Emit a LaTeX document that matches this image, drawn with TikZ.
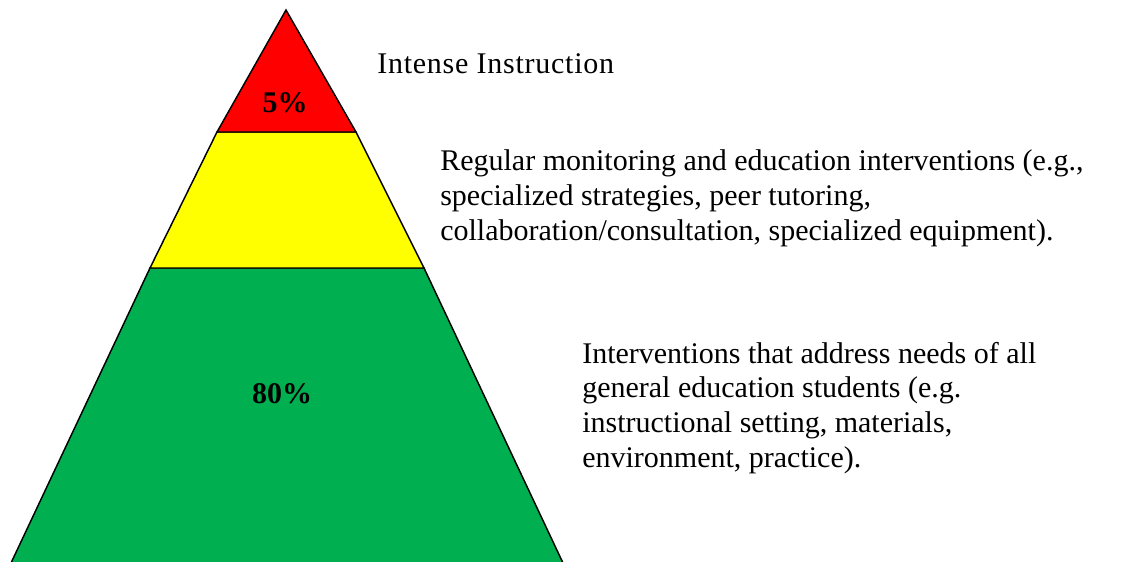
\documentclass[tikz,border=0pt]{standalone}
\usepackage{fontspec}
\setmainfont{Liberation Serif}
\definecolor{tierred}{HTML}{FF0000}
\definecolor{tieryellow}{HTML}{FFFF00}
\definecolor{tiergreen}{HTML}{00B050}
\tikzset{
  tier/.style={draw=black, line width=1.1pt, line join=miter},
  note/.style={anchor=base west, align=left, inner sep=0pt, font=\fontsize{22.5}{25.9}\selectfont},
  pct/.style={anchor=base, inner sep=0pt, font=\fontsize{22.5}{25.9}\selectfont\bfseries}
}
\begin{document}
\begin{tikzpicture}[x=0.75pt, y=-0.75pt]
        \useasboundingbox (0,0) rectangle (1129,561);
        \clip (0,0) rectangle (1129,561);

        \coordinate (apex) at (286, 10);
        \coordinate (redL) at (217, 132);
        \coordinate (redR) at (356, 132);
        \coordinate (yelL) at (150, 268);
        \coordinate (yelR) at (424, 268);
        \coordinate (grnL) at (11, 563);
        \coordinate (grnR) at (563, 563);

        \filldraw [tier, fill=tiergreen] (yelL) -- (yelR) -- (grnR) -- (grnL) -- cycle;
        \filldraw [tier, fill=tieryellow] (redL) -- (redR) -- (yelR) -- (yelL) -- cycle;
        \filldraw [tier, fill=tierred] (apex) -- (redR) -- (redL) -- cycle;

        \node [pct] (top) at (285, 112) {5\%};
        \node [pct] (base) at (282, 403) {80\%};

        % multi-line notes sit on the baseline of their last line
        \node [note, font=\fontsize{22.5}{25.9}\selectfont\addfontfeature{LetterSpace=2.5}] (intense) at (377, 73) {Intense Instruction};
        \node [note] (regular) at (440, 240) {Regular monitoring and education interventions (e.g.,\\
            specialized strategies, peer tutoring,\\
            collaboration/consultation, specialized equipment).};
        \node [note] (general) at (582, 467) {Interventions that address needs of all\\
            general education students (e.g.\\
            instructional setting, materials,\\
            environment, practice).};

    \end{tikzpicture}
\end{document}
